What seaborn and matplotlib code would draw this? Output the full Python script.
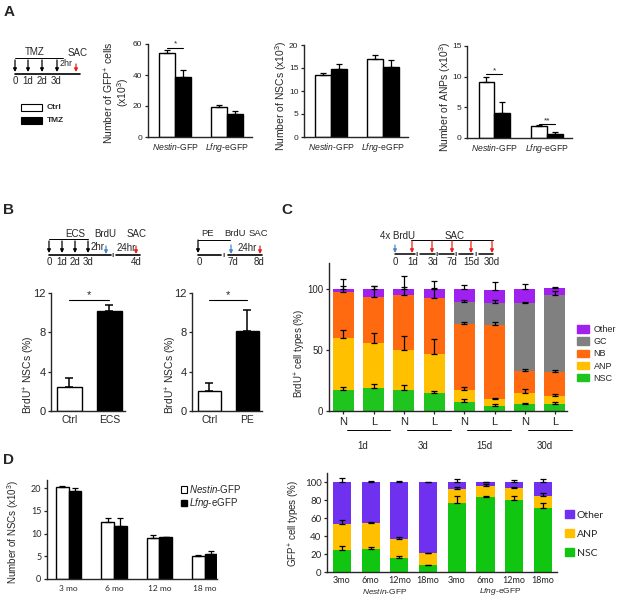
import numpy as np
import pandas as pd
import matplotlib
matplotlib.use('Agg')
import matplotlib.pyplot as plt
from matplotlib.patches import Patch
import seaborn as sns

sns.set_style('ticks')
plt.rcParams['font.family'] = ['Liberation Sans', 'DejaVu Sans']
plt.rcParams['mathtext.fontset'] = 'custom'
plt.rcParams['mathtext.rm'] = 'Liberation Sans'
plt.rcParams['mathtext.it'] = 'Liberation Sans:italic'
plt.rcParams['mathtext.bf'] = 'Liberation Sans:bold'
plt.rcParams['axes.linewidth'] = 1.0
plt.rcParams['xtick.major.size'] = 2.5
plt.rcParams['ytick.major.size'] = 2.5
plt.rcParams['xtick.major.width'] = 0.9
plt.rcParams['ytick.major.width'] = 0.9

# ---- data ----
# panel A (x10^3 cells), Ctrl vs TMZ
a_lines = ['Nestin', 'Lfng']
a_gfp_ctrl = [54, 19.5]
a_gfp_ctrl_err = [2, 1]
a_gfp_tmz = [39, 15]
a_gfp_tmz_err = [4.5, 2]
a_nsc_ctrl = [13.5, 16.9]
a_nsc_ctrl_err = [0.5, 0.9]
a_nsc_tmz = [14.7, 15.3]
a_nsc_tmz_err = [1.1, 1.5]
a_anp_ctrl = [9.2, 2.0]
a_anp_ctrl_err = [0.8, 0.15]
a_anp_tmz = [4.0, 0.7]
a_anp_tmz_err = [1.8, 0.2]

# panel B (% BrdU+ NSCs)
b1_groups = ['Ctrl', 'ECS']
b1_vals = [2.4, 10.2]
b1_err = [1.0, 0.6]
b2_groups = ['Ctrl', 'PE']
b2_vals = [2.0, 8.1]
b2_err = [0.8, 2.2]

# panel C (BrdU+ cell types %, stacked segments)
c_bars = ['N1d', 'L1d', 'N3d', 'L3d', 'N15d', 'L15d', 'N30d', 'L30d']
c_ticks = ['N', 'L', 'N', 'L', 'N', 'L', 'N', 'L']
c_days = ['1d', '3d', '15d', '30d']
c_nsc = [17, 19, 17, 14.5, 7.5, 4, 5.5, 6]
c_anp = [43, 37, 33, 32.5, 9.5, 6, 9.5, 6.5]
c_nb = [37, 37, 45, 45.5, 54, 60, 18, 19.5]
c_gc = [0, 0, 0, 0, 18, 18, 55, 63]
c_other = [3, 7, 5, 7.5, 11, 11, 12, 5.5]
c_nsc_err = [3, 3, 4, 1.5, 2.5, 1.5, 1, 1.5]
c_anp_err = [6, 8, 11, 12, 3, 0.5, 3, 1]
c_nb_err = [5, 9, 6, 8, 2, 2.5, 1, 1.5]
c_gc_err = [0, 0, 0, 0, 1.5, 2.5, 1.5, 3]
c_other_err = [8, 2.5, 10, 6, 3, 6.5, 4, 0.5]

# panel D left (x10^3 NSCs)
d_ages = ['3 mo', '6 mo', '12 mo', '18 mo']
d_nestin = [20.3, 12.5, 9.0, 5.1]
d_nestin_err = [0.1, 0.9, 0.6, 0.1]
d_lfng = [19.3, 11.7, 9.2, 5.6]
d_lfng_err = [0.8, 1.7, 0.1, 0.6]

# panel D right (GFP+ cell types %, stacked)
e_bars = ['N3', 'N6', 'N12', 'N18', 'L3', 'L6', 'L12', 'L18']
e_ticks = ['3mo', '6mo', '12mo', '18mo', '3mo', '6mo', '12mo', '18mo']
e_nsc = [24, 26, 16, 7.5, 77, 83, 80, 71]
e_anp = [29, 28, 21, 13.5, 15, 13, 13, 14]
e_other = [47, 46, 63, 79, 8, 4, 7, 15]
e_nsc_err = [5, 1.5, 1.5, 0.8, 7, 1, 4, 6]
e_anp_err = [5, 1.5, 2, 0.5, 3, 1.5, 2, 3]
e_other_err = [5, 1.5, 1, 0.5, 3, 0.5, 2, 3]

W, H = 617, 599
fig = plt.figure(figsize=(W / 100, H / 100), dpi=100)


def pbox(x0, y0, x1, y1):
    return [x0 / W, 1 - y1 / H, (x1 - x0) / W, (y1 - y0) / H]


def up_err(ax, x, y, e, cap=2.2, lw=0.9):
    x = np.asarray(x, float)
    y = np.asarray(y, float)
    e = np.asarray(e, float)
    m = e > 0
    ax.errorbar(x[m], y[m], yerr=[np.zeros(m.sum()), e[m]], fmt='none',
                ecolor='black', elinewidth=lw, capsize=cap, capthick=lw, zorder=5)


def sig(ax, x0, x1, y, txt, fs=7):
    ax.plot([x0, x1], [y, y], color='black', lw=0.8)
    ax.text((x0 + x1) / 2, y, txt, ha='center', va='bottom', fontsize=fs)


line_labels = [r'$\mathit{Nestin}$-GFP', r'$\mathit{Lfng}$-eGFP']


def grouped(ax, ctrl, ctrl_err, trt, trt_err, cats, width):
    df = pd.DataFrame({'cat': cats * 2, 'grp': ['Ctrl'] * len(cats) + ['Trt'] * len(cats),
                       'val': list(ctrl) + list(trt)})
    sns.barplot(data=df, x='cat', y='val', hue='grp', palette={'Ctrl': 'white', 'Trt': 'black'},
                edgecolor='black', linewidth=1, width=width, errorbar=None, legend=False, ax=ax)
    pos = np.arange(len(cats))
    up_err(ax, pos - width / 4, ctrl, ctrl_err)
    up_err(ax, pos + width / 4, trt, trt_err)
    ax.set_xlabel('')
    ax.set_ylabel('')
    sns.despine(ax=ax)


# ---- Panel A ----
axA1 = fig.add_axes(pbox(148, 44, 252, 137))
grouped(axA1, a_gfp_ctrl, a_gfp_ctrl_err, a_gfp_tmz, a_gfp_tmz_err, a_lines, 0.6)
axA1.set_ylim(0, 60)
axA1.set_yticks([0, 20, 40, 60])
axA1.set_xlim(-0.52, 1.48)
axA1.set_xticks([0, 1], line_labels)
axA1.tick_params(axis='y', labelsize=6, pad=1.5)
axA1.tick_params(axis='x', labelsize=6.2, length=0, pad=3)
axA1.set_ylabel('Number of GFP$^{+}$ cells\n(x10$^{3}$)', fontsize=7.5, linespacing=1.0)
axA1.yaxis.set_label_coords(-0.16, 0.48)
sig(axA1, -0.15, 0.15, 57.5, '*', 6)

axA2 = fig.add_axes(pbox(304, 45, 408, 137))
grouped(axA2, a_nsc_ctrl, a_nsc_ctrl_err, a_nsc_tmz, a_nsc_tmz_err, a_lines, 0.6)
axA2.set_ylim(0, 20)
axA2.set_yticks([0, 5, 10, 15, 20])
axA2.set_xlim(-0.52, 1.48)
axA2.set_xticks([0, 1], line_labels)
axA2.tick_params(axis='y', labelsize=6, pad=1.5)
axA2.tick_params(axis='x', labelsize=6.2, length=0, pad=3)
axA2.set_ylabel('Number of NSCs (x10$^{3}$)', fontsize=7.5)
axA2.yaxis.set_label_coords(-0.14, 0.45)

axA3 = fig.add_axes(pbox(467, 46, 572, 138))
grouped(axA3, a_anp_ctrl, a_anp_ctrl_err, a_anp_tmz, a_anp_tmz_err, a_lines, 0.6)
axA3.set_ylim(0, 15)
axA3.set_yticks([0, 5, 10, 15])
axA3.set_xlim(-0.52, 1.48)
axA3.set_xticks([0, 1], line_labels)
axA3.tick_params(axis='y', labelsize=6, pad=1.5)
axA3.tick_params(axis='x', labelsize=6.2, length=0, pad=3)
axA3.set_ylabel('Number of ANPs (x10$^{3}$)', fontsize=7.5)
axA3.yaxis.set_label_coords(-0.13, 0.45)
sig(axA3, -0.15, 0.15, 10.4, '*', 6)
sig(axA3, 0.85, 1.15, 2.3, '**', 6)


# ---- Panel B ----
def single(ax, cats, vals, errs, width):
    sns.barplot(x=cats, y=vals, hue=cats, palette=['white', 'black'], edgecolor='black',
                linewidth=1, width=width, errorbar=None, legend=False, ax=ax)
    up_err(ax, np.arange(len(cats)), vals, errs, cap=3, lw=1.1)
    ax.set_ylim(0, 12)
    ax.set_yticks([0, 4, 8, 12])
    ax.set_xlim(-0.46, 1.39)
    ax.tick_params(axis='y', labelsize=8, pad=1.5)
    ax.tick_params(axis='x', labelsize=7.5, length=0, pad=3)
    ax.set_ylabel('BrdU$^{+}$ NSCs (%)', fontsize=7.5)
    ax.yaxis.set_label_coords(-0.19, 0.31)
    sns.despine(ax=ax)
    sig(ax, 0, 1, 11.3, '*', 8)


axB1 = fig.add_axes(pbox(51, 293, 125, 411))
single(axB1, b1_groups, b1_vals, b1_err, 0.62)
axB2 = fig.add_axes(pbox(192, 293, 262, 411))
single(axB2, b2_groups, b2_vals, b2_err, 0.62)


# ---- Panel C ----
def stacked(ax, cats, segs, errs, colors, width):
    cum = np.cumsum(np.array(segs, float), axis=0)
    for k in range(len(segs) - 1, -1, -1):
        sns.barplot(x=cats, y=cum[k], color=colors[k], width=width, errorbar=None,
                    linewidth=0, saturation=1, ax=ax)
    pos = np.arange(len(cats))
    for k in range(len(segs)):
        m = np.array(segs[k]) > 0
        up_err(ax, pos[m], cum[k][m], np.array(errs[k])[m], cap=2.2, lw=0.9)
    sns.despine(ax=ax)


c_colors = ['#1fc41f', '#ffc000', '#ff6a10', '#808080', '#a020f0']
c_names = ['NSC', 'ANP', 'NB', 'GC', 'Other']
axC = fig.add_axes(pbox(329, 263, 567, 411))
stacked(axC, c_bars, [c_nsc, c_anp, c_nb, c_gc, c_other],
        [c_nsc_err, c_anp_err, c_nb_err, c_gc_err, c_other_err], c_colors, 0.69)
axC.set_ylim(0, 121)
axC.set_yticks([0, 50, 100])
axC.set_xlim(-0.48, 7.4)
axC.set_xticks(range(len(c_bars)), c_ticks)
axC.tick_params(axis='y', labelsize=7, pad=1.5)
axC.tick_params(axis='x', labelsize=8, pad=2)
axC.set_ylabel('BrdU$^{+}$ cell types (%)', fontsize=7)
axC.yaxis.set_label_coords(-0.088, 0.39)
tr = axC.get_xaxis_transform()
for i, d in enumerate(c_days):
    axC.plot([2 * i + 0.1, 2 * i + 1.55], [-0.128, -0.128], transform=tr, color='black',
             lw=0.7, clip_on=False)
    axC.text(2 * i + 0.65, -0.2, d, transform=tr, ha='center', va='top', fontsize=7)
handles = [Patch(color=c_colors[k]) for k in range(4, -1, -1)]
fig.legend(handles, c_names[::-1], loc='center left', bbox_to_anchor=(572 / W, 1 - 354 / H),
           frameon=False, fontsize=6.5, handlelength=1.4, handleheight=0.9,
           labelspacing=0.35, handletextpad=0.5, borderpad=0)

# ---- Panel D left ----
axD1 = fig.add_axes(pbox(47, 480, 217, 579))
grouped(axD1, d_nestin, d_nestin_err, d_lfng, d_lfng_err, d_ages, 0.56)
axD1.set_ylim(0, 21.8)
axD1.set_yticks([0, 5, 10, 15, 20])
axD1.set_xlim(-0.48, 3.27)
axD1.set_xticks(range(4), d_ages)
for t in axD1.get_xticklabels() + axD1.get_yticklabels():
    t.set_fontfamily('Lato')
axD1.tick_params(axis='y', labelsize=6.5, pad=1.5)
axD1.tick_params(axis='x', labelsize=6, length=0, pad=4)
axD1.set_ylabel('Number of NSCs (x10$^{3}$)', fontsize=7)
axD1.yaxis.set_label_coords(-0.153, 0.48)
fig.legend([Patch(facecolor='white', edgecolor='black', lw=0.8), Patch(color='black')],
           line_labels, loc='upper left', bbox_to_anchor=(176 / W, 1 - 478 / H), frameon=False,
           fontsize=7, handlelength=0.6, handleheight=0.6, handletextpad=0.2,
           labelspacing=0.15, borderpad=0)

# ---- Panel D right ----
e_colors = ['#11c611', '#ffc000', '#7030f0']
axD2 = fig.add_axes(pbox(327, 473, 557, 572))
stacked(axD2, e_bars, [e_nsc, e_anp, e_other], [e_nsc_err, e_anp_err, e_other_err],
        e_colors, 0.63)
axD2.set_ylim(0, 110)
axD2.set_yticks(range(0, 101, 20))
axD2.set_xlim(-0.52, 7.49)
axD2.set_xticks(range(len(e_bars)), e_ticks)
for t in axD2.get_xticklabels() + axD2.get_yticklabels():
    t.set_fontfamily('Lato')
axD2.tick_params(axis='y', labelsize=7, pad=1.5)
axD2.tick_params(axis='x', labelsize=6.5, length=0, pad=3)
axD2.set_ylabel('GFP$^{+}$ cell types (%)', fontsize=7)
axD2.yaxis.set_label_coords(-0.109, 0.49)
tr2 = axD2.get_xaxis_transform()
axD2.text(1.5, -0.2, line_labels[0], transform=tr2, ha='center', va='center', fontsize=6)
axD2.text(5.5, -0.2, line_labels[1], transform=tr2, ha='center', va='center', fontsize=6)
fig.legend([Patch(color=c) for c in e_colors[::-1]], ['Other', 'ANP', 'NSC'],
           loc='center left', bbox_to_anchor=(560 / W, 1 - 534 / H), frameon=False,
           prop={'family': 'Lato', 'size': 7.5}, handlelength=0.8, handleheight=0.8,
           handletextpad=0.3, labelspacing=0.9, borderpad=0)

# ---- overlay: panel letters, timelines, panel A legend ----
ov = fig.add_axes([0, 0, 1, 1])
ov.set_xlim(0, W)
ov.set_ylim(H, 0)
ov.axis('off')
ov.patch.set_visible(False)

for lab, x, y in [('A', 4, 12), ('B', 3, 210), ('C', 281, 210), ('D', 3, 460)]:
    ov.text(x, y, lab, fontsize=11, fontweight='bold', ha='left', va='center')

BLUE = '#4a86c8'
RED = '#e8201c'


def arrow(x, y0, y1, c='black'):
    ov.annotate('', xy=(x, y1), xytext=(x, y0),
                arrowprops=dict(arrowstyle='-|>', color=c, lw=0.9, mutation_scale=5,
                                shrinkA=0, shrinkB=0))


def hl(x0, x1, y, lw=1.0):
    ov.plot([x0, x1], [y, y], color='black', lw=lw)


def txt(x, y, s, fs=6.5, ha='center'):
    ov.text(x, y, s, fontsize=fs, ha=ha, va='center')


# timeline A
txt(35, 52, 'TMZ', 7)
hl(15, 63, 58, 0.7)
for x in [15, 28, 42, 57]:
    arrow(x, 60, 72)
txt(66, 63, '2hr', 6.5, 'center')
txt(78, 53, 'SAC', 7)
arrow(76, 64, 72, RED)
hl(15, 80, 74, 1.2)
for x, s in zip([15, 28, 42, 56], ['0', '1d', '2d', '3d']):
    txt(x, 81, s, 7)
# panel A legend
ov.add_patch(plt.Rectangle((21, 104), 21, 7, facecolor='white', edgecolor='black', lw=0.8))
ov.add_patch(plt.Rectangle((21, 117), 21, 7, facecolor='black', edgecolor='black', lw=0.8))
ov.text(47, 107.5, 'Ctrl', fontsize=6, fontweight='bold', va='center')
ov.text(47, 120.5, 'TMZ', fontsize=6, fontweight='bold', va='center')

# timeline B1
txt(75, 234, 'ECS', 7)
hl(49, 88, 239, 0.7)
for x in [49, 62, 75, 88]:
    arrow(x, 241, 253)
txt(98, 247, '2hr', 7)
txt(105, 234, 'BrdU', 7)
arrow(106, 246, 254, BLUE)
hl(49, 111, 255, 1.2)
txt(113.5, 255.5, 'II', 4.5)
hl(116, 140, 255, 1.2)
txt(126, 248, '24hr', 7)
txt(137, 234, 'SAC', 7)
arrow(136, 246, 254, RED)
for x, s in zip([49, 62, 75, 88, 136], ['0', '1d', '2d', '3d', '4d']):
    txt(x, 262, s, 7)

# timeline B2
txt(208, 234, 'PE', 6.8)
txt(235, 234, 'BrdU', 6.8)
txt(258, 234, 'SAC', 6.8)
hl(198, 230, 240, 0.7)
arrow(198, 240, 253)
hl(198, 221, 255, 1.2)
txt(224.5, 255.5, 'II', 4.5)
hl(228, 262, 255, 1.2)
arrow(231, 245, 254, BLUE)
arrow(260, 246, 254, RED)
txt(247, 248, '24hr', 7)
for x, s in zip([199, 233, 259], ['0', '7d', '8d']):
    txt(x, 262, s, 7)

# timeline C
txt(397, 236, '4x BrdU', 7)
txt(455, 236, 'SAC', 7)
hl(411, 493, 240, 0.7)
arrow(395, 245, 253, BLUE)
for x in [412, 432, 452, 471, 492]:
    arrow(x, 241, 253, RED)
for x0, x1 in [(395, 415), (420, 435), (439, 454), (459, 473), (479, 493)]:
    hl(x0, x1, 254, 1.1)
for x in [417.5, 437, 456.5, 476]:
    txt(x, 254.5, 'II', 4.5)
for x, s in zip([395, 413, 433, 452, 471, 492], ['0', '1d', '3d', '7d', '15d', '30d']):
    txt(x, 262, s, 7)

fig.savefig('out.png', dpi=100)
